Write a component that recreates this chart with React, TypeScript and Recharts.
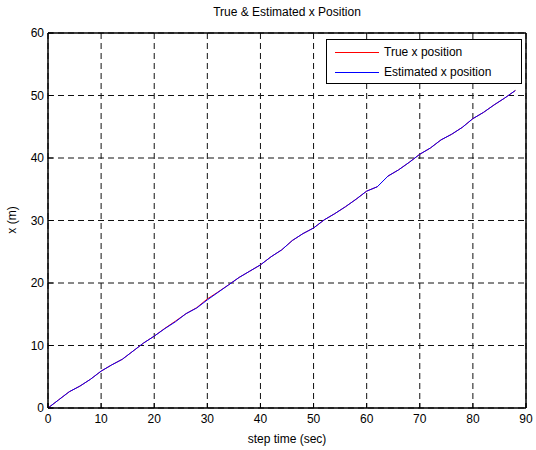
import React from "react";
import {
  LineChart,
  Line,
  XAxis,
  YAxis,
  CartesianGrid,
  Legend,
} from "recharts";

const steps = [
  0, 2, 4, 6, 8, 10, 12, 14, 16, 18, 20, 22, 24, 26, 28, 30, 32, 34, 36, 38, 40, 42, 44,
  46, 48, 50, 52, 54, 56, 58, 60, 62, 64, 66, 68, 70, 72, 74, 76, 78, 80, 82, 84, 86, 88,
];

const trueX = [
  0, 1.3, 2.6, 3.5, 4.6, 5.9, 6.9, 7.8, 9.1, 10.4, 11.5, 12.75, 13.9, 15.1, 16.05, 17.45, 18.55,
  19.7, 20.9, 21.9, 22.9, 24.2, 25.3, 26.8, 27.9, 28.8, 30.1, 31.1, 32.2, 33.4, 34.7, 35.4,
  37.1, 38.1, 39.3, 40.6, 41.6, 42.9, 43.8, 44.9, 46.3, 47.3, 48.5, 49.6, 50.8,
];

const estX = [
  0, 1.3, 2.6, 3.5, 4.6, 5.9, 6.9, 7.8, 9.1, 10.4, 11.5, 12.7, 13.8, 15.1, 16.0, 17.3, 18.5,
  19.7, 20.9, 21.9, 22.9, 24.2, 25.3, 26.8, 27.9, 28.8, 30.1, 31.1, 32.2, 33.4, 34.7, 35.4,
  37.1, 38.1, 39.3, 40.6, 41.6, 42.9, 43.8, 44.9, 46.3, 47.3, 48.5, 49.6, 50.8,
];

const xTicks = [0, 10, 20, 30, 40, 50, 60, 70, 80, 90];
const yTicks = [0, 10, 20, 30, 40, 50, 60];

const seriesNames = ["True x position", "Estimated x position"];
const seriesColors = ["#ff0000", "#0000ff"];

const data = steps.map((t, i) => ({ t, trueX: trueX[i], estX: estX[i] }));

const font = '"Liberation Sans", Arial, sans-serif';

function LegendBox() {
  return (
    <div
      style={{
        width: 194,
        height: 43,
        border: "1px solid #000",
        background: "#fff",
        fontFamily: font,
        fontSize: 12,
        color: "#000",
        position: "relative",
      }}
    >
      {seriesNames.map((name, i) => (
        <div
          key={name}
          style={{
            position: "absolute",
            left: 8,
            top: 4 + i * 20,
            height: 16,
            display: "flex",
            alignItems: "center",
            whiteSpace: "nowrap",
          }}
        >
          <span
            style={{
              display: "inline-block",
              width: 44,
              height: 0,
              borderTop: `1px solid ${seriesColors[i]}`,
              marginRight: 5,
            }}
          />
          {name}
        </div>
      ))}
    </div>
  );
}

export default function App() {
  return (
    <div
      style={{
        position: "absolute",
        left: 0,
        top: 0,
        width: 536,
        height: 450,
        background: "#fff",
        fontFamily: font,
      }}
    >
      {/* title */}
      <div
        style={{
          position: "absolute",
          left: 0,
          width: 574,
          top: 5,
          textAlign: "center",
          fontSize: 12,
          color: "#000",
        }}
      >
        True &amp; Estimated x Position
      </div>

      <LineChart
        width={536}
        height={450}
        data={data}
        margin={{ top: 23, right: 0, bottom: 12, left: 8 }}
      >
        <CartesianGrid stroke="#111" strokeDasharray="6 4" fill="#fff" />
        <XAxis
          dataKey="t"
          type="number"
          domain={[0, 90]}
          ticks={xTicks}
          interval={0}
          height={30}
          tickSize={-5}
          tickMargin={11}
          axisLine={{ stroke: "#000", strokeWidth: 1.5 }}
          tickLine={{ stroke: "#000" }}
          tick={{ fill: "#000", fontSize: 12, fontFamily: font }}
        />
        <XAxis
          xAxisId="top"
          orientation="top"
          dataKey="t"
          type="number"
          domain={[0, 90]}
          ticks={xTicks}
          interval={0}
          height={10}
          tickSize={-5}
          tick={false}
          axisLine={{ stroke: "#000", strokeWidth: 1.5 }}
          tickLine={{ stroke: "#000" }}
        />
        <YAxis
          type="number"
          domain={[0, 60]}
          ticks={yTicks}
          interval={0}
          width={40}
          tickSize={-5}
          tickMargin={9}
          axisLine={{ stroke: "#000", strokeWidth: 1.5 }}
          tickLine={{ stroke: "#000" }}
          tick={{ fill: "#000", fontSize: 12, fontFamily: font }}
        />
        <YAxis
          yAxisId="right"
          orientation="right"
          type="number"
          domain={[0, 60]}
          ticks={yTicks}
          interval={0}
          width={10}
          tickSize={-5}
          tick={false}
          axisLine={{ stroke: "#000", strokeWidth: 1.5 }}
          tickLine={{ stroke: "#000" }}
        />
        <Legend
          layout="horizontal"
          align="center"
          verticalAlign="middle"
          content={<LegendBox />}
          wrapperStyle={{ position: "absolute", left: 326, top: 39, width: 196, height: 45 }}
        />
        <Line
          name={seriesNames[0]}
          dataKey="trueX"
          type="linear"
          stroke={seriesColors[0]}
          strokeWidth={1}
          dot={false}
          isAnimationActive={false}
        />
        <Line
          name={seriesNames[1]}
          dataKey="estX"
          type="linear"
          stroke={seriesColors[1]}
          strokeWidth={1}
          dot={false}
          isAnimationActive={false}
        />
      </LineChart>

      {/* axis labels */}
      <div
        style={{
          position: "absolute",
          left: 0,
          width: 574,
          top: 432,
          textAlign: "center",
          fontSize: 12,
          color: "#000",
        }}
      >
        step time (sec)
      </div>
      <div
        style={{
          position: "absolute",
          left: 12,
          top: 220,
          fontSize: 12,
          color: "#000",
          whiteSpace: "nowrap",
          transform: "translate(-50%, -50%) rotate(-90deg)",
        }}
      >
        x (m)
      </div>
    </div>
  );
}
